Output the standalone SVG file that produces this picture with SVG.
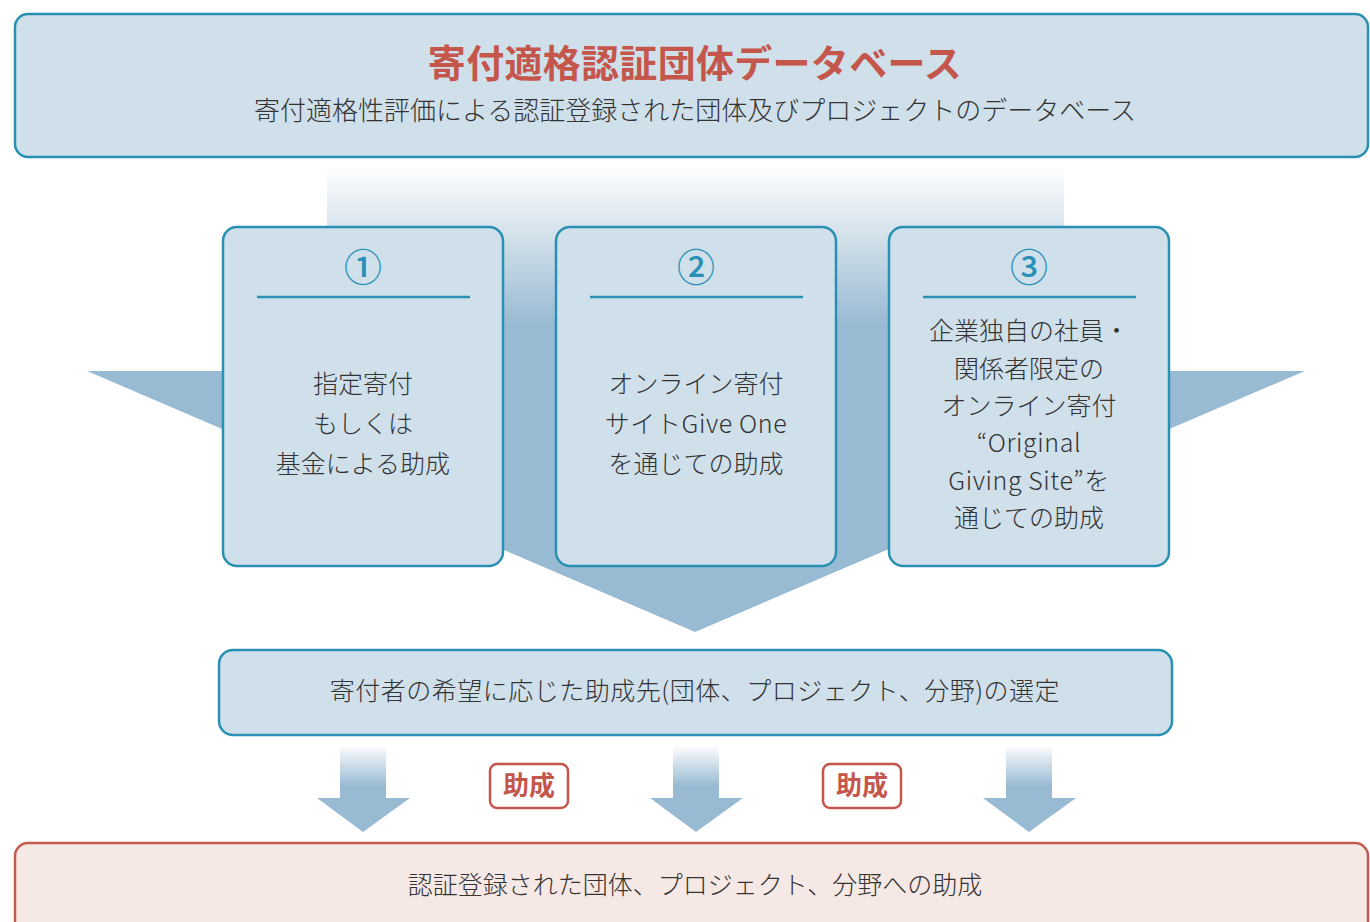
<svg xmlns="http://www.w3.org/2000/svg" width="1370" height="922" viewBox="0 0 1370 922">
<style>
.box{fill:#d0e0eb;stroke:#2a90b3;stroke-width:2.5}
.txt{font-family:"Noto Sans CJK JP","Noto Sans",sans-serif;fill:#333333;text-anchor:middle;font-weight:300}
.t25{font-size:25px}
.num{font-family:"Noto Sans CJK JP","Noto Sans",sans-serif;font-size:38px;fill:#2a90b5;text-anchor:middle;font-weight:500}
.sep{stroke:#2a90b3;stroke-width:2.5}
.red{font-family:"Noto Sans CJK JP","Noto Sans",sans-serif;fill:#c4564c;text-anchor:middle;font-weight:bold}
.tag{fill:#ffffff;stroke:#c4564c;stroke-width:2.5}
</style>
<defs>
<linearGradient id="fun" gradientUnits="userSpaceOnUse" x1="0" y1="165" x2="0" y2="325">
<stop offset="0" stop-color="#ffffff"/>
<stop offset="0.45" stop-color="#d2e0ea"/>
<stop offset="1" stop-color="#99bad3"/>
</linearGradient>
<linearGradient id="arr" x1="0" y1="0" x2="0" y2="1">
<stop offset="0" stop-color="#ffffff"/>
<stop offset="0.47" stop-color="#99bad3"/>
<stop offset="1" stop-color="#99bad3"/>
</linearGradient>
</defs>
<rect width="1370" height="922" fill="#ffffff"/>

<g id="connectors">
<path id="funnel" d="M327,165 H1064 V371 H1305 L695,632 L87,371 H327 Z" fill="url(#fun)"/>
<path d="M340,745 H386 V798 H410 L363,832 L317,798 H340 Z" fill="url(#arr)"/>
<path d="M673,745 H719 V798 H743 L696,832 L650,798 H673 Z" fill="url(#arr)"/>
<path d="M1006,745 H1052 V798 H1076 L1029,832 L983,798 H1006 Z" fill="url(#arr)"/>
</g>

<g id="header">
<rect class="box" x="15" y="14" width="1353" height="143" rx="13"/>
<text class="red" x="695" y="77" font-size="38" letter-spacing="0.3">寄付適格認証団体データベース</text>
<text class="txt" x="695" y="120" font-size="26">寄付適格性評価による認証登録された団体及びプロジェクトのデータベース</text>
</g>

<g id="box1">
<rect class="box" x="223" y="227" width="280" height="339" rx="14"/>
<text class="num" x="363" y="281">①</text>
<line class="sep" x1="257" y1="297" x2="470" y2="297"/>
<text class="txt t25" x="363" y="393">指定寄付</text>
<text class="txt t25" x="363" y="433">もしくは</text>
<text class="txt t25" x="363" y="473">基金による助成</text>
</g>

<g id="box2">
<rect class="box" x="556" y="227" width="280" height="339" rx="14"/>
<text class="num" x="696" y="281">②</text>
<line class="sep" x1="590" y1="297" x2="803" y2="297"/>
<text class="txt t25" x="696" y="393">オンライン寄付</text>
<text class="txt t25" x="696" y="433" letter-spacing="0.6">サイトGive One</text>
<text class="txt t25" x="696" y="473">を通じての助成</text>
</g>

<g id="box3">
<rect class="box" x="889" y="227" width="280" height="339" rx="14"/>
<text class="num" x="1029" y="281">③</text>
<line class="sep" x1="923" y1="297" x2="1136" y2="297"/>
<text class="txt t25" x="1029" y="340">企業独自の社員・</text>
<text class="txt t25" x="1029" y="378">関係者限定の</text>
<text class="txt t25" x="1029" y="415">オンライン寄付</text>
<text class="txt t25" x="1029" y="452" letter-spacing="0.6">“Original</text>
<text class="txt t25" x="1029" y="490" letter-spacing="0.6">Giving Site”を</text>
<text class="txt t25" x="1029" y="527">通じての助成</text>
</g>

<g id="select">
<rect class="box" x="219" y="650" width="953" height="85" rx="14"/>
<text class="txt t25" x="695" y="700" letter-spacing="0.5">寄付者の希望に応じた助成先(団体、プロジェクト、分野)の選定</text>
</g>

<g id="tag1">
<rect class="tag" x="490" y="764" width="78" height="44" rx="7"/>
<text class="red" x="529" y="795" font-size="26">助成</text>
</g>
<g id="tag2">
<rect class="tag" x="823" y="764" width="78" height="44" rx="7"/>
<text class="red" x="862" y="795" font-size="26">助成</text>
</g>

<g id="result">
<rect x="15" y="843" width="1353" height="100" rx="13" fill="#f5e8e5" stroke="#c25a52" stroke-width="2.5"/>
<text class="txt t25" x="695" y="894">認証登録された団体、プロジェクト、分野への助成</text>
</g>
</svg>
